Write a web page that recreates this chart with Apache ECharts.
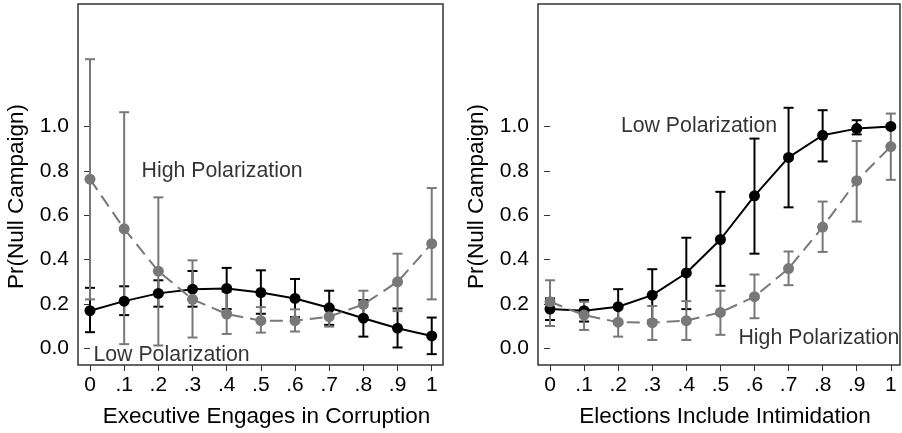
<!DOCTYPE html>
<html>
<head>
<meta charset="utf-8">
<script src="https://cdn.jsdelivr.net/npm/echarts@6/dist/echarts.min.js"></script>
<style>
html,body{margin:0;padding:0;background:#fff;}
#main{width:902px;height:433px;}
</style>
</head>
<body>
<div id="main"></div>
<script>
// ---- data ----
const xValues = [0, 0.1, 0.2, 0.3, 0.4, 0.5, 0.6, 0.7, 0.8, 0.9, 1];
const xTickLabels = ['0', '.1', '.2', '.3', '.4', '.5', '.6', '.7', '.8', '.9', '1'];
const yTicks = [0, 0.2, 0.4, 0.6, 0.8, 1.0];
const yTickLabels = ['0.0', '0.2', '0.4', '0.6', '0.8', '1.0'];

const leftTitle = 'Executive Engages in Corruption';
const rightTitle = 'Elections Include Intimidation';
const yTitle = 'Pr(Null Campaign)';

// Left panel: corruption
const corrLowMean = [0.169, 0.212, 0.247, 0.266, 0.269, 0.251, 0.224, 0.182, 0.135, 0.090, 0.055];
const corrLowLo   = [0.072, 0.149, 0.187, 0.187, 0.176, 0.155, 0.140, 0.105, 0.052, 0.003, -0.027];
const corrLowHi   = [0.272, 0.279, 0.306, 0.348, 0.362, 0.351, 0.312, 0.259, 0.217, 0.179, 0.138];
const corrHighMean = [0.762, 0.538, 0.347, 0.220, 0.154, 0.124, 0.124, 0.142, 0.197, 0.299, 0.471];
const corrHighLo   = [0.220, 0.018, 0.012, 0.048, 0.064, 0.070, 0.075, 0.097, 0.140, 0.167, 0.220];
const corrHighHi   = [1.303, 1.064, 0.680, 0.396, 0.254, 0.185, 0.175, 0.190, 0.259, 0.426, 0.722];

// Right panel: intimidation
const intimLowMean = [0.176, 0.169, 0.187, 0.239, 0.339, 0.490, 0.687, 0.860, 0.960, 0.990, 1.000];
const intimLowLo   = [0.127, 0.120, 0.110, 0.125, 0.176, 0.281, 0.426, 0.635, 0.842, 0.964, 0.996];
const intimLowHi   = [0.224, 0.217, 0.266, 0.356, 0.498, 0.705, 0.945, 1.084, 1.073, 1.028, 1.004];
const intimHighMean = [0.209, 0.149, 0.117, 0.115, 0.124, 0.161, 0.232, 0.359, 0.546, 0.755, 0.909];
const intimHighLo   = [0.100, 0.082, 0.052, 0.037, 0.037, 0.060, 0.135, 0.284, 0.434, 0.571, 0.759];
const intimHighHi   = [0.306, 0.209, 0.190, 0.190, 0.212, 0.259, 0.332, 0.436, 0.661, 0.934, 1.058];

// Annotations [x, y, text]
const annotLeft = [[0.151, 0.80, 'High Polarization'], [0.010, -0.03, 'Low Polarization']];
const annotRight = [[0.208, 1.00, 'Low Polarization'], [0.553, 0.045, 'High Polarization']];

// ---- styles ----
const BLACK = '#000000';
const GRAY = '#787878';
const FONT = '"Liberation Sans", Arial, sans-serif';

const pts = (m) => xValues.map((x, i) => [x, m[i]]);
const errs = (lo, hi) => xValues.map((x, i) => [x, lo[i], hi[i]]);

function errRender(color) {
  return function (params, api) {
    const x = api.value(0), lo = api.value(1), hi = api.value(2);
    const p1 = api.coord([x, lo]);
    const p2 = api.coord([x, hi]);
    const w = 5;
    const st = { stroke: color, lineWidth: 2 };
    return {
      type: 'group',
      children: [
        { type: 'line', shape: { x1: p1[0], y1: p1[1], x2: p2[0], y2: p2[1] }, style: st },
        { type: 'line', shape: { x1: p1[0] - w, y1: p1[1], x2: p1[0] + w, y2: p1[1] }, style: st },
        { type: 'line', shape: { x1: p2[0] - w, y1: p2[1], x2: p2[0] + w, y2: p2[1] }, style: st }
      ]
    };
  };
}

function xAxisDef(gi, title, min, max) {
  return {
    type: 'value', gridIndex: gi, min: min, max: max,
    axisLine: { show: false, onZero: false },
    splitLine: { show: false },
    axisTick: { show: true, length: 6, customValues: xValues, lineStyle: { color: '#333', width: 1 } },
    axisLabel: {
      customValues: xValues, color: '#000', fontFamily: FONT, fontSize: 21, margin: 10,
      formatter: (v) => { const i = xValues.findIndex(t => Math.abs(t - v) < 1e-6); return i >= 0 ? xTickLabels[i] : ''; }
    },
    name: title, nameLocation: 'middle', nameGap: 40,
    nameTextStyle: { color: '#000', fontFamily: FONT, fontSize: 22.5, padding: [0, 0, 0, 12] }
  };
}
function yAxisDef(gi) {
  return {
    type: 'value', gridIndex: gi, min: -0.076, max: 1.552,
    axisLine: { show: false },
    splitLine: { show: false },
    axisTick: { show: true, length: 6, customValues: yTicks, lineStyle: { color: '#333', width: 1 } },
    axisLabel: {
      customValues: yTicks, color: '#000', fontFamily: FONT, fontSize: 21, margin: 9,
      formatter: (v) => { const i = yTicks.findIndex(t => Math.abs(t - v) < 1e-6); return i >= 0 ? yTickLabels[i] : ''; }
    },
    name: yTitle, nameLocation: 'middle', nameGap: 50, nameRotate: 90,
    nameTextStyle: { color: '#000', fontFamily: FONT, fontSize: 22.5, padding: [0, 24, 0, 0] }
  };
}

function panelSeries(gi, lowM, lowLo, lowHi, highM, highLo, highHi, annot) {
  return [
    { type: 'custom', xAxisIndex: gi, yAxisIndex: gi, renderItem: errRender(BLACK), data: errs(lowLo, lowHi), encode: { x: 0, y: [1, 2] }, z: 2, silent: true },
    { type: 'custom', xAxisIndex: gi, yAxisIndex: gi, renderItem: errRender(GRAY), data: errs(highLo, highHi), encode: { x: 0, y: [1, 2] }, z: 2, silent: true },
    { type: 'line', xAxisIndex: gi, yAxisIndex: gi, data: pts(lowM), symbol: 'circle', symbolSize: 11, showSymbol: true,
      lineStyle: { color: BLACK, width: 2 }, itemStyle: { color: BLACK }, z: 3, animation: false },
    { type: 'line', xAxisIndex: gi, yAxisIndex: gi, data: pts(highM), symbol: 'circle', symbolSize: 11, showSymbol: true,
      lineStyle: { color: GRAY, width: 2, type: [13, 7] }, itemStyle: { color: GRAY }, z: 4, animation: false },
    { type: 'scatter', xAxisIndex: gi, yAxisIndex: gi, symbolSize: 0, silent: true, z: 5,
      data: annot.map(a => ({ value: [a[0], a[1]], label: { formatter: a[2] } })),
      label: { show: true, position: [0, 0], align: 'left', verticalAlign: 'middle', color: '#000', fontFamily: FONT, fontSize: 21.3 } }
  ];
}

const chart = echarts.init(document.getElementById('main'), null, { renderer: 'canvas' });
chart.setOption({
  animation: false,
  backgroundColor: '#fff',
  grid: [
    { left: 78, top: 4, width: 365, height: 363, show: true, borderColor: '#333', borderWidth: 1.5, backgroundColor: '#fff' },
    { left: 538, top: 4, width: 362, height: 363, show: true, borderColor: '#333', borderWidth: 1.5, backgroundColor: '#fff' }
  ],
  xAxis: [xAxisDef(0, leftTitle, -0.0351, 1.033), xAxisDef(1, rightTitle, -0.0352, 1.027)],
  yAxis: [yAxisDef(0), yAxisDef(1)],
  series: [].concat(
    panelSeries(0, corrLowMean, corrLowLo, corrLowHi, corrHighMean, corrHighLo, corrHighHi, annotLeft),
    panelSeries(1, intimLowMean, intimLowLo, intimLowHi, intimHighMean, intimHighLo, intimHighHi, annotRight)
  )
});
</script>
</body>
</html>
